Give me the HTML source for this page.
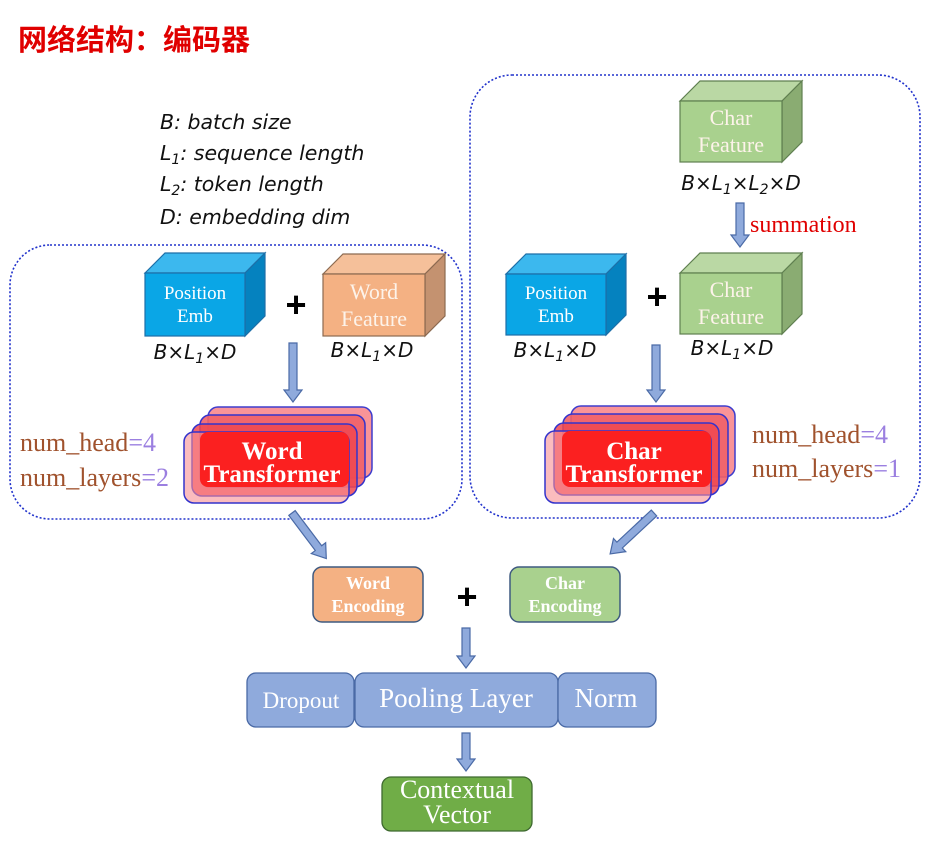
<!DOCTYPE html>
<html><head><meta charset="utf-8"><style>
html,body{margin:0;padding:0;background:#fff;}
svg{display:block;}
.ser{font-family:"Liberation Serif",serif;}
.it{font-family:"DejaVu Sans","Liberation Sans",sans-serif;font-style:italic;}
</style></head><body>
<svg width="927" height="848" viewBox="0 0 927 848" xmlns="http://www.w3.org/2000/svg">
<text x="18" y="50" font-family="'Liberation Sans','Noto Sans CJK SC',sans-serif" font-weight="bold" font-size="29" fill="#e00000">网络结构：编码器</text>

<g class="it" font-size="20.5" fill="#111">
<text x="160" y="129">B: batch size</text>
<text x="160" y="160">L<tspan font-size="14" dy="4">1</tspan><tspan dy="-4">: sequence length</tspan></text>
<text x="160" y="191">L<tspan font-size="14" dy="4">2</tspan><tspan dy="-4">: token length</tspan></text>
<text x="160" y="224">D: embedding dim</text>
</g>

<rect x="10" y="245" width="452" height="274" rx="40" fill="none" stroke="#2233cc" stroke-width="1.6" stroke-dasharray="2,2"/>
<rect x="470" y="75" width="450" height="443" rx="42" fill="none" stroke="#2233cc" stroke-width="1.6" stroke-dasharray="2,2"/>

<g stroke-width="1.2">
<polygon points="145,273 165,253 265,253 245,273" fill="#3cb8ee" stroke="#1d6fa8"/>
<polygon points="245,273 265,253 265,316 245,336" fill="#0582bf" stroke="#1d6fa8"/>
<rect x="145" y="273" width="100" height="63" fill="#0aa6e6" stroke="#1d6fa8"/>
<polygon points="323,274 343,254 445,254 425,274" fill="#f5c09a" stroke="#8c6a50"/>
<polygon points="425,274 445,254 445,316 425,336" fill="#c49270" stroke="#8c6a50"/>
<rect x="323" y="274" width="102" height="62" fill="#f4b183" stroke="#8c6a50"/>
<polygon points="680,101 700,81 802,81 782,101" fill="#bad8a4" stroke="#5f7f50"/>
<polygon points="782,101 802,81 802,142 782,162" fill="#8aac72" stroke="#5f7f50"/>
<rect x="680" y="101" width="102" height="61" fill="#a9d18e" stroke="#5f7f50"/>
<polygon points="506,274 526,254 626,254 606,274" fill="#3cb8ee" stroke="#1d6fa8"/>
<polygon points="606,274 626,254 626,315 606,335" fill="#0582bf" stroke="#1d6fa8"/>
<rect x="506" y="274" width="100" height="61" fill="#0aa6e6" stroke="#1d6fa8"/>
<polygon points="680,273 700,253 802,253 782,273" fill="#bad8a4" stroke="#5f7f50"/>
<polygon points="782,273 802,253 802,314 782,334" fill="#8aac72" stroke="#5f7f50"/>
<rect x="680" y="273" width="102" height="61" fill="#a9d18e" stroke="#5f7f50"/>
</g>
<g class="ser" fill="#fff" font-size="19" text-anchor="middle">
<text x="195" y="299">Position</text><text x="195" y="322">Emb</text>
<text x="556" y="299">Position</text><text x="556" y="322">Emb</text>
</g>
<g class="ser" fill="#fdf3ea" font-size="22" text-anchor="middle">
<text x="374" y="299">Word</text><text x="374" y="326">Feature</text>
<text x="731" y="125">Char</text><text x="731" y="152">Feature</text>
<text x="731" y="297">Char</text><text x="731" y="324">Feature</text>
</g>
<g font-family="'Liberation Sans',sans-serif" font-weight="bold" font-size="36" text-anchor="middle">
<text x="296" y="317">+</text><text x="657" y="309">+</text><text x="467" y="609">+</text>
</g>
<g class="it" font-size="20" fill="#111" text-anchor="middle">
<text x="195" y="359">B×L<tspan font-size="14" dy="4">1</tspan><tspan dy="-4">×D</tspan></text>
<text x="372" y="357">B×L<tspan font-size="14" dy="4">1</tspan><tspan dy="-4">×D</tspan></text>
<text x="555" y="357">B×L<tspan font-size="14" dy="4">1</tspan><tspan dy="-4">×D</tspan></text>
<text x="732" y="355">B×L<tspan font-size="14" dy="4">1</tspan><tspan dy="-4">×D</tspan></text>
<text x="741" y="190">B×L<tspan font-size="14" dy="4">1</tspan><tspan dy="-4">×L</tspan><tspan font-size="14" dy="4">2</tspan><tspan dy="-4">×D</tspan></text>
</g>
<text x="750" y="232" class="ser" font-size="24" fill="#e00000">summation</text>

<g fill="#8faadc" stroke="#4a6aa6" stroke-width="1.2">
<polygon points="289,343 297,343 297,390 302,390 293,402 284,390 289,390"/>
<polygon points="652,345 660,345 660,390 665,390 656,402 647,390 652,390"/>
<polygon points="736,203 744,203 744,235 749,235 740,247 731,235 736,235"/>
<polygon points="462,628 470,628 470,656 475,656 466,668 457,656 462,656"/>
<polygon points="462,733 470,733 470,759 475,759 466,771 457,759 462,759"/>
<g transform="translate(292,513) rotate(-37)"><polygon points="-4,0 4,0 4,44 9,44 0,57 -9,44 -4,44"/></g>
<g transform="translate(654,513) rotate(47)"><polygon points="-4,0 4,0 4,47 9,47 0,60 -9,47 -4,47"/></g>
</g>

<g stroke="#3333cc" stroke-width="1.5">
<rect x="208" y="407" width="164" height="71" rx="10" fill="#f98f93" opacity="0.95"/>
<rect x="200" y="415" width="165" height="72" rx="10" fill="#f06068" fill-opacity="0.9"/>
<rect x="192" y="424" width="165" height="72" rx="10" fill="#f04850" fill-opacity="0.85"/>
<rect x="184" y="432" width="165" height="71" rx="10" fill="#f98f93" fill-opacity="0.6"/>
<rect x="200" y="432" width="149" height="55" rx="8" fill="#fb2020" stroke="none"/>
<rect x="571" y="406" width="164" height="71" rx="10" fill="#f98f93" opacity="0.95"/>
<rect x="563" y="414" width="165" height="72" rx="10" fill="#f06068" fill-opacity="0.9"/>
<rect x="554" y="423" width="165" height="72" rx="10" fill="#f04850" fill-opacity="0.85"/>
<rect x="545" y="431" width="166" height="72" rx="10" fill="#f98f93" fill-opacity="0.6"/>
<rect x="562" y="431" width="149" height="56" rx="8" fill="#fb2020" stroke="none"/>
</g>
<g class="ser" fill="#fff" font-weight="bold" font-size="25" text-anchor="middle">
<text x="272" y="459">Word</text><text x="272" y="482">Transformer</text>
<text x="634" y="459">Char</text><text x="634" y="482">Transformer</text>
</g>
<g class="ser" font-size="26" fill="#a0522d">
<text x="20" y="451">num_head<tspan fill="#9b7fe0">=4</tspan></text>
<text x="20" y="486">num_layers<tspan fill="#9b7fe0">=2</tspan></text>
<text x="752" y="443">num_head<tspan fill="#9b7fe0">=4</tspan></text>
<text x="752" y="477">num_layers<tspan fill="#9b7fe0">=1</tspan></text>
</g>

<rect x="313" y="567" width="110" height="55" rx="9" fill="#f4b183" stroke="#3f5a80" stroke-width="1.5"/>
<rect x="510" y="567" width="110" height="55" rx="9" fill="#a9d18e" stroke="#3f5a80" stroke-width="1.5"/>
<g class="ser" fill="#fff" font-weight="bold" font-size="18" text-anchor="middle">
<text x="368" y="589">Word</text><text x="368" y="612">Encoding</text>
<text x="565" y="589">Char</text><text x="565" y="612">Encoding</text>
</g>

<g fill="#8faadc" stroke="#4a6aa6" stroke-width="1.3">
<rect x="247" y="673" width="107" height="54" rx="9"/>
<rect x="355" y="673" width="203" height="54" rx="9"/>
<rect x="558" y="673" width="98" height="54" rx="9"/>
</g>
<g class="ser" fill="#fff" text-anchor="middle">
<text x="301" y="708" font-size="23">Dropout</text>
<text x="456" y="707" font-size="27">Pooling Layer</text>
<text x="606" y="707" font-size="27">Norm</text>
</g>
<rect x="382" y="777" width="150" height="54" rx="9" fill="#70ad47" stroke="#3f6a30" stroke-width="1.3"/>
<g class="ser" fill="#fff" font-size="26" text-anchor="middle">
<text x="457" y="798">Contextual</text><text x="457" y="823">Vector</text>
</g>
</svg>
</body></html>
